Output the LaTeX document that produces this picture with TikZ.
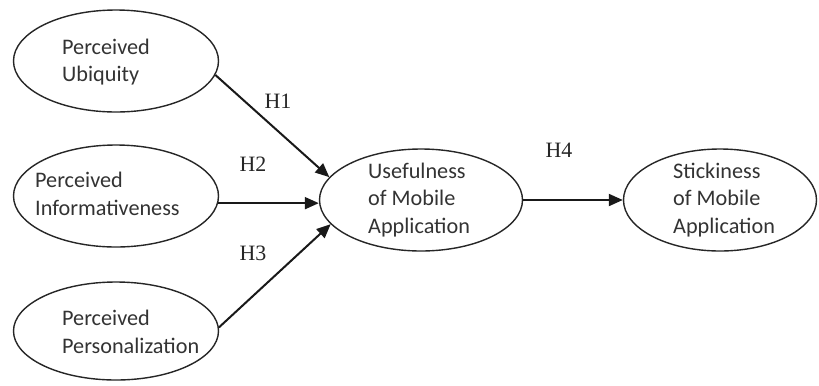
\documentclass[tikz,border=0pt]{standalone}
\usepackage{fontspec}
\setmainfont{Carlito}
\newfontfamily\hfont{Liberation Serif}
\usetikzlibrary{shapes.geometric,arrows.meta}
\begin{document}
\begin{tikzpicture}[x=1bp,y=-1bp,
  ell/.style={draw=black!85, line width=1.4bp, ellipse, minimum width=#1, minimum height=102bp, inner sep=0pt},
  lbl/.style={anchor=west, align=left, font=\fontsize{22.3}{27.5}\selectfont, text=black!80, inner sep=0pt},
  hyp/.style={font=\hfont\fontsize{22}{26}\selectfont, text=black!85, inner sep=0pt},
  arr/.style={draw=black!90, line width=2bp, -{Triangle[length=14bp,width=12bp]}}]
\useasboundingbox (0,0) rectangle (819,385);
\fill[white] (0,0) rectangle (819,385);
% ellipses
\node[ell=205bp] (pu) at (116,61) {};
\node[ell=205bp] (pi) at (116,196) {};
\node[ell=205bp, minimum height=98bp] (pp) at (116,331) {};
\node[ell=203bp] (u) at (421,200) {};
\node[ell=193bp] (s) at (720,200) {};
% texts
\node[lbl] (tpu) at (62,62) {Perceived\\Ubiquity};
\node[lbl] (tpi) at (35,194) {Perceived\\Informativeness};
\node[lbl] (tpp) at (62,332) {Perceived\\Personalization};
\node[lbl] (tu) at (368,200) {Usefulness\\of Mobile\\Application};
\node[lbl] (ts) at (673,200) {Stickiness\\of Mobile\\Application};
% arrows
\draw[arr] (pu.-8) -- (u.166);
\draw[arr] (pi.-4) -- (pi.-4 -| u.west);
\draw[arr] (pp.2) -- (u.195);
\draw[arr] (u.east) -- (s.west);
% labels
\node[hyp] (h1) at (278,101) {H1};
\node[hyp] (h2) at (253,164) {H2};
\node[hyp] (h3) at (253,253) {H3};
\node[hyp] (h4) at (559,150) {H4};
\end{tikzpicture}
\end{document}
